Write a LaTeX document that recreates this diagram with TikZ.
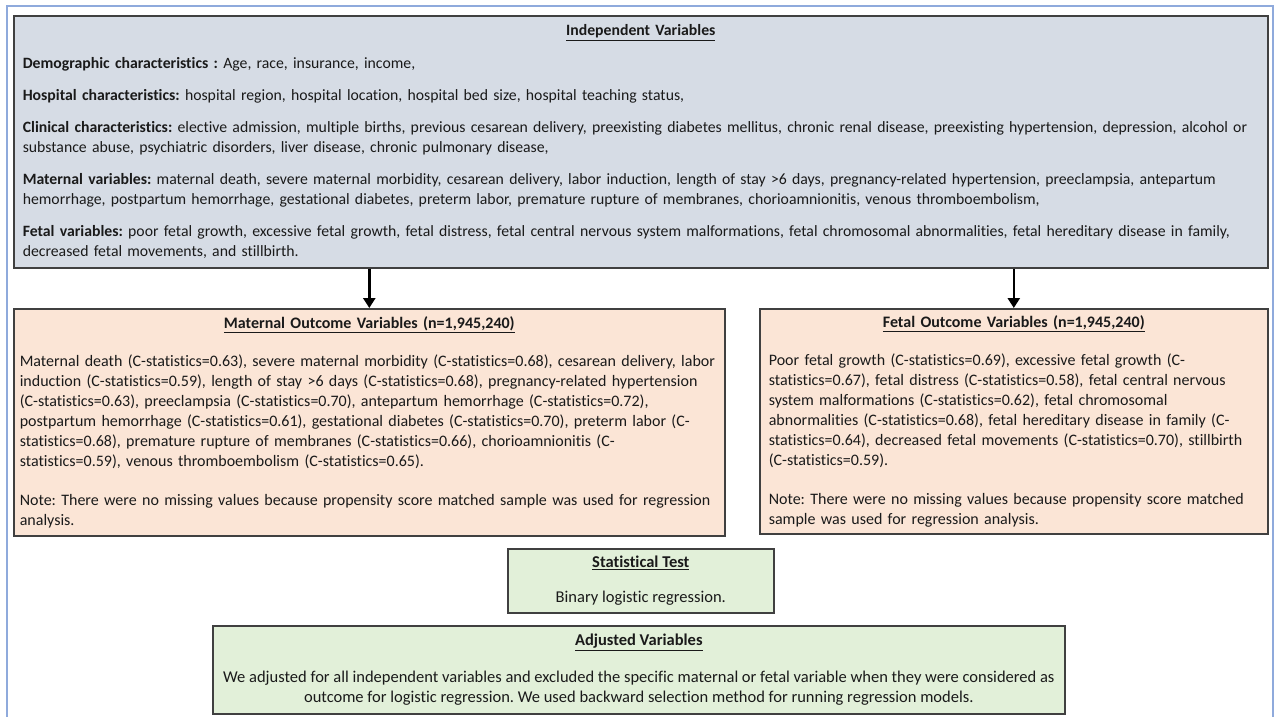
\documentclass[tikz,border=0pt]{standalone}
\usepackage{fontspec}
\setmainfont{Carlito}[Ligatures=NoCommon]
\usetikzlibrary{arrows.meta,positioning}
\frenchspacing

\definecolor{frameblue}{HTML}{8FAADC}
\definecolor{indepfill}{HTML}{D6DCE5}
\definecolor{outcomefill}{HTML}{FBE5D6}
\definecolor{testfill}{HTML}{E2F0D9}
\definecolor{edgegray}{HTML}{404040}
\definecolor{textgray}{HTML}{1A1A1A}

\newcommand{\boxhead}[1]{\underline{\textbf{#1}}}
\newcommand{\headline}[1]{\makebox[\linewidth]{\boxhead{#1}}}

\tikzset{
    varbox/.style={draw=edgegray, line width=1.6pt, anchor=north west, inner ysep=0pt,
        align=left, text=textgray, font=\fontsize{16}{20}\selectfont},
    centerbox/.style={varbox, align=center, font=\fontsize{16.5}{20.5}\selectfont},
    downarrow/.style={-{Triangle[width=12pt,length=10pt]}, line width=2.6pt, black}
}

\begin{document}
\begin{tikzpicture}[x=1pt,y=-1pt]
    \useasboundingbox (0,0) rectangle (1278,716);
    \draw[frameblue, line width=1.2pt] (7,720) -- (7,6) -- (1273,6) -- (1273,720);

    \node[varbox, fill=indepfill, inner xsep=9pt, text width=1236pt, minimum width=1254pt, minimum height=252pt,
        font=\fontsize{15.75}{20}\selectfont] (indep) at (13,15) {%
        \headline{Independent Variables}\\[13pt]
        \textbf{Demographic characteristics :} Age, race, insurance, income,\\[12pt]
        \textbf{Hospital characteristics:} hospital region, hospital location, hospital bed size, hospital teaching status,\\[12pt]
        \textbf{Clinical characteristics:} elective admission, multiple births, previous cesarean delivery, preexisting diabetes mellitus, chronic renal disease, preexisting hypertension, depression, alcohol or\\
        substance abuse, psychiatric disorders, liver disease, chronic pulmonary disease,\\[12pt]
        \textbf{Maternal variables:} maternal death, severe maternal morbidity, cesarean delivery, labor induction, length of stay >6 days, pregnancy-related hypertension, preeclampsia, antepartum\\
        hemorrhage, postpartum hemorrhage, gestational diabetes, preterm labor, premature rupture of membranes, chorioamnionitis, venous thromboembolism,\\[12pt]
        \textbf{Fetal variables:} poor fetal growth, excessive fetal growth, fetal distress, fetal central nervous system malformations, fetal chromosomal abnormalities, fetal hereditary disease in family,\\
        decreased fetal movements, and stillbirth.};

    \node[varbox, fill=outcomefill, inner xsep=6pt, text width=699pt, minimum width=711pt, minimum height=227pt] (maternal) at (13,308) {%
        \headline{Maternal Outcome Variables (n=1,945,240)}\\[18pt]
        Maternal death (C-statistics=0.63), severe maternal morbidity (C-statistics=0.68), cesarean delivery, labor\\
        induction (C-statistics=0.59), length of stay >6 days (C-statistics=0.68), pregnancy-related hypertension\\
        (C-statistics=0.63), preeclampsia (C-statistics=0.70), antepartum hemorrhage (C-statistics=0.72),\\
        postpartum hemorrhage (C-statistics=0.61), gestational diabetes (C-statistics=0.70), preterm labor (C-\\
        statistics=0.68), premature rupture of membranes (C-statistics=0.66), chorioamnionitis (C-\\
        statistics=0.59), venous thromboembolism (C-statistics=0.65).\\[19pt]
        Note: There were no missing values because propensity score matched sample was used for regression\\
        analysis.};

    \node[varbox, fill=outcomefill, inner xsep=9pt, text width=490pt, minimum width=508pt, minimum height=225pt] (fetal) at (759,308) {%
        \headline{Fetal Outcome Variables (n=1,945,240)}\\[18pt]
        Poor fetal growth (C-statistics=0.69), excessive fetal growth (C-\\
        statistics=0.67), fetal distress (C-statistics=0.58), fetal central nervous\\
        system malformations (C-statistics=0.62), fetal chromosomal\\
        abnormalities (C-statistics=0.68), fetal hereditary disease in family (C-\\
        statistics=0.64), decreased fetal movements (C-statistics=0.70), stillbirth\\
        (C-statistics=0.59).\\[19pt]
        Note: There were no missing values because propensity score matched\\
        sample was used for regression analysis.};

    \node[centerbox, fill=testfill, minimum width=266pt, minimum height=64pt] (stattest) at (507,548) {%
        \boxhead{Statistical Test}\\[14pt]
        Binary logistic regression.};

    \node[centerbox, fill=testfill, minimum width=852pt, minimum height=88pt] (adjusted) at (212,625) {%
        \boxhead{Adjusted Variables}\\[16pt]
        We adjusted for all independent variables and excluded the specific maternal or fetal variable when they were considered as\\
        outcome for logistic regression. We used backward selection method for running regression models.};

    \draw[downarrow] (indep.south -| maternal.north) -- (maternal.north);
    \draw[downarrow] (indep.south -| fetal.north) -- (fetal.north);
\end{tikzpicture}
\end{document}
